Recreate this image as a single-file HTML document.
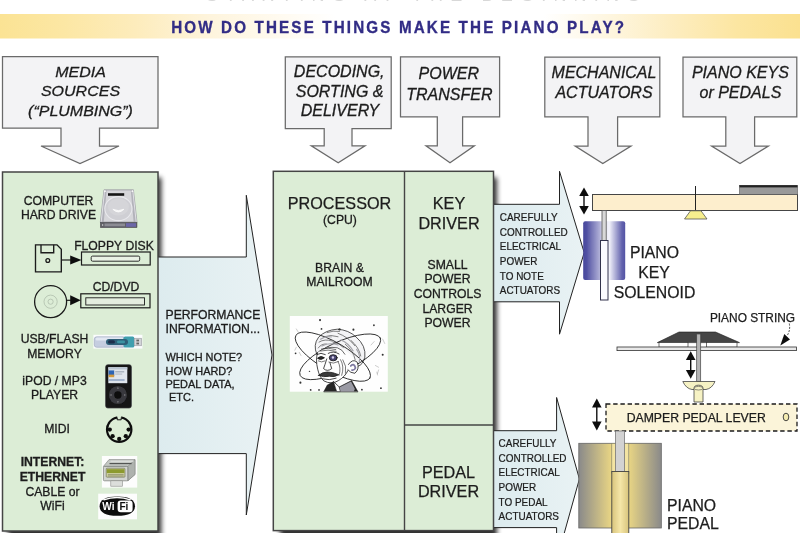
<!DOCTYPE html>
<html>
<head>
<meta charset="utf-8">
<title>How do these things make the piano play?</title>
<style>
html,body{margin:0;padding:0;background:#fff;}
body{width:800px;height:533px;overflow:hidden;font-family:"Liberation Sans",sans-serif;}
svg{display:block;font-family:"Liberation Sans",sans-serif;}
.lbl{font-style:italic;font-size:16px;fill:#1c1c1c;text-anchor:middle;stroke:#1c1c1c;stroke-width:0.3px;}
.t12{font-size:12.2px;fill:#1c1c1c;text-anchor:middle;stroke:#1c1c1c;stroke-width:0.3px;}
.t16{font-size:16.2px;fill:#1c1c1c;text-anchor:middle;stroke:#1c1c1c;stroke-width:0.25px;}
.cond{font-size:11.7px;fill:#1c1c1c;stroke:#1c1c1c;stroke-width:0.25px;}
</style>
</head>
<body>
<svg width="800" height="533" viewBox="0 0 800 533">
<defs>
  <linearGradient id="banner" gradientUnits="userSpaceOnUse" x1="0" x2="800" y1="0" y2="0">
    <stop offset="0" stop-color="#fbe394"/>
    <stop offset="0.08" stop-color="#fce7a4"/>
    <stop offset="0.17" stop-color="#fdecbc"/>
    <stop offset="0.26" stop-color="#fef4dc"/>
    <stop offset="0.36" stop-color="#fffbf2"/>
    <stop offset="0.42" stop-color="#ffffff"/>
    <stop offset="0.68" stop-color="#ffffff"/>
    <stop offset="0.76" stop-color="#fef6e0"/>
    <stop offset="0.84" stop-color="#fdedc0"/>
    <stop offset="0.92" stop-color="#fce6a2"/>
    <stop offset="1" stop-color="#fbe190"/>
  </linearGradient>
  <linearGradient id="blue1" x1="0" x2="1" y1="0" y2="0">
    <stop offset="0" stop-color="#dcebee"/>
    <stop offset="1" stop-color="#e9f2f4"/>
  </linearGradient>
  <linearGradient id="sol1" x1="0" x2="1" y1="0" y2="0">
    <stop offset="0" stop-color="#47479c"/>
    <stop offset="0.08" stop-color="#5050a2"/>
    <stop offset="0.40" stop-color="#b2b2d8"/>
    <stop offset="0.46" stop-color="#dedef0"/>
    <stop offset="0.62" stop-color="#f3f3fb"/>
    <stop offset="0.92" stop-color="#6464ae"/>
    <stop offset="1" stop-color="#5252a4"/>
  </linearGradient>
  <linearGradient id="sol2" x1="0" x2="1" y1="0" y2="0">
    <stop offset="0" stop-color="#8a8a8a"/>
    <stop offset="0.4" stop-color="#ead684"/>
    <stop offset="0.6" stop-color="#ead684"/>
    <stop offset="1" stop-color="#8a8a8a"/>
  </linearGradient>
  <linearGradient id="plg" x1="0" x2="1" y1="0" y2="0">
    <stop offset="0" stop-color="#d8c47c"/>
    <stop offset="0.5" stop-color="#f5e6a8"/>
    <stop offset="1" stop-color="#d8c47c"/>
  </linearGradient>
  <filter id="sh" x="-10%" y="-10%" width="130%" height="120%">
    <feGaussianBlur stdDeviation="2.7"/>
  </filter>
  <filter id="soft" x="-10" y="-10" width="820" height="553" filterUnits="userSpaceOnUse"><feGaussianBlur stdDeviation="0.45"/></filter>
</defs>

<g filter="url(#soft)">
<!-- banner -->
<rect x="-6" y="14" width="812" height="24.5" fill="url(#banner)"/>
<text x="206" y="1.3" font-size="18" letter-spacing="7.2" fill="#d8d8d8">STARTING AT THE BEGINNING</text>
<text x="171.2" y="33.2" transform="translate(0,33.2) scale(1,1.14) translate(0,-33.2)" font-weight="bold" font-size="15.2" letter-spacing="2.15" fill="#322d86" stroke="#322d86" stroke-width="0.3">HOW DO THESE THINGS MAKE THE PIANO PLAY?</text>

<!-- label callouts -->
<g fill="#f3f3f5" stroke="#6a6a6a" stroke-width="1.25" stroke-linejoin="miter">
  <path d="M2.5,56.6 H158 V128.2 H99.5 V146 H119 L80,163.6 L41,146 H61 V128.2 H2.5 Z"/>
  <path d="M285.3,56.8 H391.2 V128.6 H352 V145.8 H365 L338.2,162.8 L311.3,145.8 H324.2 V128.6 H285.3 Z"/>
  <path d="M400.5,56.8 H499.6 V116.9 H462.6 V145.8 H474.4 L450,162.8 L426,145.8 H437.3 V116.9 H400.5 Z"/>
  <path d="M544.8,57 H659.8 V116.8 H617.6 V146 H631 L602.8,163.6 L575.2,146 H588 V116.8 H544.8 Z"/>
  <path d="M683,57 H796.8 V116.8 H754.6 V146 H768.4 L740,163.6 L711.6,146 H725.8 V116.8 H683 Z"/>
</g>
<g class="lbl">
  <text transform="translate(80.5,77.2) scale(1,0.9)">MEDIA</text>
  <text transform="translate(80.5,96.3) scale(1,0.9)">SOURCES</text>
  <text transform="translate(80.5,115.8) scale(1,0.9)">(“PLUMBING”)</text>
  <text x="339.2" y="77.3">DECODING,</text>
  <text x="339.6" y="96.5">SORTING &amp;</text>
  <text x="340" y="115.8">DELIVERY</text>
  <text x="448.8" y="79.3">POWER</text>
  <text x="449.4" y="99.7">TRANSFER</text>
  <text transform="translate(604,78.3) scale(1,1.03)">MECHANICAL</text>
  <text transform="translate(604,97.7) scale(1,1.03)">ACTUATORS</text>
  <text x="740.4" y="78.3">PIANO KEYS</text>
  <text x="740.4" y="97.8">or PEDALS</text>
</g>

<!-- shadows -->
<rect x="8" y="177.5" width="153.4" height="362" fill="#000" opacity="0.8" filter="url(#sh)"/>
<rect x="280" y="177.5" width="217" height="362" fill="#000" opacity="0.8" filter="url(#sh)"/>

<!-- big blue arrow 1 -->
<path d="M150,257 H246.3 V195.3 L272,355 L246.3,515 V453.6 H150 Z" fill="url(#blue1)" stroke="#222" stroke-width="1"/>
<!-- blue arrow 2 -->
<path d="M490,204.3 H559.5 V171.3 L584.2,252.6 L559.5,334.2 V301.8 H490 Z" fill="url(#blue1)" stroke="#222" stroke-width="1"/>
<!-- blue arrow 3 -->
<path d="M490,430.7 H556.6 V397.5 L579.4,479 L556.6,560.5 V527.6 H490 Z" fill="url(#blue1)" stroke="#222" stroke-width="1"/>

<!-- green boxes -->
<rect x="2.5" y="172" width="155.5" height="359" fill="#dcedd6" stroke="#444" stroke-width="1.5"/>
<rect x="273.3" y="171.3" width="220.2" height="359.3" fill="#dcedd6" stroke="#444" stroke-width="1.5"/>
<line x1="404.5" y1="171.5" x2="404.5" y2="530.5" stroke="#444" stroke-width="1.4"/>
<line x1="404.5" y1="425" x2="493.5" y2="425" stroke="#444" stroke-width="1.4"/>

<!-- left box text -->
<g class="t12">
  <text x="58.5" y="204.5">COMPUTER</text>
  <text x="58.5" y="218.5">HARD DRIVE</text>
  <text x="114" y="250">FLOPPY DISK</text>
  <text x="116" y="290.5">CD/DVD</text>
  <text x="54.5" y="343">USB/FLASH</text>
  <text x="54.5" y="357.5">MEMORY</text>
  <text x="54.5" y="384.5">iPOD / MP3</text>
  <text x="54.5" y="399">PLAYER</text>
  <text x="57" y="433">MIDI</text>
  <text x="52.5" y="466" font-weight="bold">INTERNET:</text>
  <text x="52.5" y="481" font-weight="bold">ETHERNET</text>
  <text x="52.5" y="495.5">CABLE or</text>
  <text x="52.5" y="510">WiFi</text>
</g>


<!-- ICONS: left box -->
<!-- hard drive -->
<g>
  <path d="M104,189.8 H133.4 L137,222.3 H100.3 Z" fill="#b2b2ba" stroke="#9a9aa2" stroke-width="0.7"/>
  <path d="M106.6,190.6 H130.8 L133.6,221.6 H103.8 Z" fill="#d6d6da"/>
  <path d="M104.6,190.4 L101.2,221.8 M132.8,190.4 L136.2,221.8" stroke="#ececf0" stroke-width="0.8" fill="none"/>
  <ellipse cx="118.4" cy="208.6" rx="13.6" ry="12" fill="#cfcfd4" stroke="#e9e9ed" stroke-width="1.1"/>
  <ellipse cx="118.4" cy="206.8" rx="10.5" ry="8.6" fill="#d5d5d9"/>
  <path d="M112.9,209.3 Q118.4,214.6 123.9,209.3 Q118.4,212 112.9,209.3 Z" fill="#fafafa" stroke="#fafafa" stroke-width="0.9"/>
  <rect x="108" y="193.2" width="16.2" height="2.6" fill="#161616"/>
  <rect x="100.3" y="222.3" width="36.7" height="5.4" fill="#5e5e66" stroke="#4a4a50" stroke-width="0.5"/>
  <rect x="104.5" y="223.5" width="20.5" height="2.8" fill="#8c8c94"/>
  <rect x="126" y="223.2" width="10" height="3.6" fill="#6c66a8"/>
  <circle cx="102.6" cy="225" r="0.8" fill="#ddd"/>
  <circle cx="105" cy="191.2" r="0.9" fill="#f8f8f8"/>
  <circle cx="132.4" cy="191.2" r="0.9" fill="#f8f8f8"/>
</g>
<!-- floppy -->
<g fill="none" stroke="#1a1a1a" stroke-width="1.35">
  <path d="M35.5,244.8 H57 L61.3,249.3 V271.8 H35.5 Z"/>
  <path d="M41,244.8 V252.7 H53.7 V244.8"/>
  <circle cx="47.8" cy="260.5" r="1.9" stroke-width="1.3"/>
  <line x1="61.3" y1="260" x2="72" y2="260" stroke-width="1.2"/>
  <path d="M70.2,255.6 L81.5,260 L70.2,264.4 Z" fill="#111" stroke="none"/>
  <rect x="81.5" y="252" width="68.7" height="13" stroke-width="1.2"/>
  <rect x="91.2" y="256.1" width="48.5" height="5.1" rx="1.4" fill="#e9f1e5" stroke-width="0.9"/>
</g>
<!-- cd -->
<g fill="none" stroke="#1a1a1a" stroke-width="1.3">
  <circle cx="50.6" cy="301.7" r="16"/>
  <circle cx="50.6" cy="301.7" r="6.6" stroke="#a9b8a6" stroke-width="0.7"/>
  <circle cx="50.6" cy="301.7" r="2.6" stroke="#a9b8a6" stroke-width="0.7"/>
  <line x1="66.6" y1="300.3" x2="72" y2="300.3" stroke-width="1.2"/>
  <path d="M70.2,295.3 L80.8,300.3 L70.2,305.3 Z" fill="#111" stroke="none"/>
  <rect x="80.8" y="293.8" width="69.2" height="14" stroke-width="1.2"/>
  <rect x="85.8" y="297.8" width="58.7" height="7.2" fill="#e4eddf" stroke-width="0.9"/>
</g>
<!-- usb -->
<g>
  <rect x="93.4" y="334.8" width="49" height="13.8" fill="#fbfcfd"/>
  <rect x="94.3" y="336.8" width="31" height="10.5" rx="2.4" fill="#c5cde0" stroke="#9aa4bc" stroke-width="0.6"/>
  <rect x="95.5" y="337.6" width="28" height="3" rx="1.5" fill="#e2e7f2"/>
  <rect x="123.5" y="336.6" width="10.8" height="11" rx="1.6" fill="#3f9fae"/>
  <rect x="106" y="339" width="22" height="6" rx="3" fill="#2d5f78"/>
  <rect x="108" y="340.3" width="7" height="3.3" rx="1.6" fill="#1f2e4c"/>
  <rect x="117" y="340.6" width="8" height="2.6" rx="1.3" fill="#3b93a2"/>
  <rect x="134.2" y="338.2" width="7.4" height="7.6" fill="#d2d4d8" stroke="#8c8e94" stroke-width="0.5"/>
  <rect x="136.4" y="339.6" width="2.6" height="1.8" fill="#666"/>
  <rect x="136.4" y="342.6" width="2.6" height="1.8" fill="#666"/>
</g>
<!-- ipod -->
<g>
  <rect x="105.6" y="364.7" width="25.8" height="43.3" rx="2.2" fill="#121214" stroke="#3c3c40" stroke-width="0.7"/>
  <rect x="108.3" y="367.2" width="19" height="16" fill="#dfe5ec"/>
  <rect x="108.3" y="367.2" width="19" height="2.2" fill="#b9c4d2"/>
  <rect x="108.6" y="370.4" width="5.6" height="5.4" fill="#2d65b4"/>
  <rect x="108.6" y="374.6" width="5.6" height="2.6" fill="#d49a3c"/>
  <rect x="115.2" y="371.4" width="9" height="0.9" fill="#8c96a4"/>
  <rect x="115.2" y="373.6" width="7" height="0.9" fill="#a8b0bc"/>
  <rect x="108.6" y="379.4" width="16" height="1.2" fill="#7d93b8"/>
  <circle cx="117.9" cy="395" r="9.1" fill="#38383c"/>
  <circle cx="117.9" cy="395" r="3.7" fill="#0c0c0e"/>
  <path d="M117.9,387.2 l1,1.3 h-2 z M117.9,402.8 l1,-1.3 h-2 z M110.1,395 l1.3,-1 v2 z M125.7,395 l-1.3,-1 v2 z" fill="#9a9a9e"/>
</g>
<!-- midi -->
<g>
  <circle cx="119.2" cy="429.6" r="12.2" fill="none" stroke="#111" stroke-width="2.2"/>
  <rect x="117.2" y="415.8" width="4" height="3.4" fill="#dcedd6"/>
  <path d="M117.2,417.6 v2.2 h4 v-2.2" fill="none" stroke="#111" stroke-width="1"/>
  <g fill="#111">
    <circle cx="109.8" cy="429.6" r="2.15"/>
    <circle cx="112.6" cy="436.2" r="2.15"/>
    <circle cx="119.2" cy="439.0" r="2.15"/>
    <circle cx="125.8" cy="436.2" r="2.15"/>
    <circle cx="128.6" cy="429.6" r="2.15"/>
  </g>
</g>
<!-- ethernet -->
<g>
  <rect x="101.9" y="456" width="35.3" height="31.6" fill="#fdfdfd"/>
  <path d="M109,459.6 H135 V474.5 L127.8,480.8 V466.4 H103.4 Z" fill="#c4c8c4" stroke="#7c807c" stroke-width="0.6"/>
  <path d="M127.8,466.4 L135,459.6 V474.5 L127.8,480.8 Z" fill="#aeb2ae" stroke="#7c807c" stroke-width="0.5"/>
  <path d="M109.5,463.6 H131.6" stroke="#4c4e4c" stroke-width="1.1"/>
  <path d="M110.5,461.2 H133.5" stroke="#e8eae8" stroke-width="0.9"/>
  <rect x="103.4" y="466.4" width="24.4" height="14.4" rx="1" fill="#d2d5d1" stroke="#777a76" stroke-width="0.7"/>
  <rect x="106.2" y="468.2" width="18.8" height="9" rx="0.8" fill="#c9cc9a" stroke="#6a6c58" stroke-width="0.6"/>
  <rect x="106.8" y="469.2" width="17.6" height="3.8" fill="#8c9a2e"/>
  <path d="M108,474.6 H123.6 M108,476 H123.6" stroke="#7d8060" stroke-width="0.6" fill="none"/>
  <rect x="110.8" y="480.8" width="11.6" height="5.4" fill="#dcdedb" stroke="#8a8c88" stroke-width="0.6"/>
</g>
<!-- wifi -->
<g>
  <rect x="98.2" y="493.7" width="38.8" height="25.6" fill="#fdfdfd"/>
  <path d="M99.6,506.2 C99.6,499.5 106,496.4 117.3,496.4 C128.6,496.4 135,499.5 135,506.2 C135,512.6 128.6,515.8 117.3,515.8 C106,515.8 99.6,512.6 99.6,506.2 Z" fill="#0e0e0e"/>
  <path d="M104,500.5 Q117,495.8 130,500.5 L131.5,499.6 Q117,493.8 102.5,499.6 Z" fill="#fdfdfd"/>
  <rect x="117.6" y="500.6" width="15" height="11.6" rx="3.2" fill="#fdfdfd"/>
  <text x="102.2" y="510.4" font-size="11" font-weight="bold" fill="#fdfdfd" transform="translate(102.2,0) scale(0.92,1) translate(-102.2,0)">Wi</text>
  <text x="119.4" y="510.4" font-size="11" font-weight="bold" fill="#0e0e0e" transform="translate(119.4,0) scale(0.92,1) translate(-119.4,0)">Fi</text>
</g>

<!-- performance info text -->
<g fill="#1c1c1c" stroke="#1c1c1c" stroke-width="0.3">
  <text x="165.5" y="318.5" font-size="12.2">PERFORMANCE</text>
  <text x="165.5" y="333.2" font-size="12.2">INFORMATION...</text>
  <text x="165.5" y="361.4" font-size="10.95">WHICH NOTE?</text>
  <text x="165.5" y="374.6" font-size="10.95">HOW HARD?</text>
  <text x="165.5" y="387.6" font-size="10.95">PEDAL DATA,</text>
  <text x="169" y="400.6" font-size="10.95">ETC.</text>
</g>


<!-- einstein -->
<rect x="289.8" y="316" width="98" height="75.7" fill="#fefefe"/>
<g transform="translate(289,315) scale(0.1464)" fill="none" stroke="#1c1c1c" stroke-width="5.5" stroke-linecap="round" stroke-linejoin="round">
  <!-- hair mass (white, hides orbit lines partially) -->
  <path d="M190,270 Q160,205 200,150 Q250,100 330,95 Q410,100 460,150 Q530,210 520,290 Q505,345 470,350 Q445,270 370,235 Q290,205 215,250 Z" fill="#f4f4f6" stroke="none"/>
  <!-- orbits -->
  <ellipse cx="300" cy="285" rx="292" ry="98" transform="rotate(30 300 285)"/>
  <ellipse cx="350" cy="285" rx="302" ry="100" transform="rotate(-25 350 285)"/>
  <!-- hair strokes -->
  <path d="M190,268 Q162,205 202,152 Q250,102 330,97 Q408,102 458,150 Q528,210 518,288 Q504,342 472,350" stroke-width="5"/>
  <path d="M205,185 Q245,160 295,178 M235,150 Q285,130 335,148 M335,125 Q405,150 450,210 M385,200 Q440,245 452,305 M200,225 Q220,195 255,198 M300,185 Q345,192 372,222 M425,175 Q478,220 490,280 M260,120 Q300,105 345,112" stroke="#444" stroke-width="4.5"/>
  <path d="M225,212 Q275,185 335,205 M355,170 Q405,192 438,245 M462,235 Q490,275 480,320 M215,165 Q250,140 290,150" stroke="#a4a4aa" stroke-width="8"/>
  <!-- face fill -->
  <path d="M205,248 Q255,212 330,224 Q365,234 382,268 L408,335 L402,380 Q385,420 338,448 Q290,478 238,450 Q208,425 196,370 Q180,305 195,258 Z" fill="#fefefe" stroke="none"/>
  <path d="M406,338 Q435,295 466,322 Q484,368 450,398 Q420,398 402,374 Z" fill="#fefefe" stroke="none"/>
  <!-- face outline -->
  <path d="M195,258 Q180,305 196,370 Q208,425 238,450 Q290,478 338,448 Q385,420 402,380"/>
  <path d="M205,248 Q255,212 330,224 Q365,234 382,268" stroke-width="4.5"/>
  <!-- ear -->
  <path d="M406,338 Q435,295 466,322 Q484,368 450,398 Q420,398 402,374"/>
  <path d="M422,348 Q446,326 454,362 Q446,380 430,376" stroke="#5c5688" stroke-width="12" opacity="0.8"/>
  <!-- eyes -->
  <path d="M198,292 Q218,274 242,292 Q222,312 198,298 Z" fill="#2c2c2c" stroke-width="6"/>
  <ellipse cx="302" cy="292" rx="27" ry="21" fill="#4a4470" stroke-width="6"/>
  <circle cx="300" cy="290" r="8" fill="#d8d4ec" stroke="none"/>
  <path d="M190,270 Q218,252 248,270 M268,262 Q302,242 342,266" stroke-width="5.5"/>
  <path d="M200,314 Q222,328 246,314 M272,322 Q302,338 338,318" stroke-width="4"/>
  <!-- nose -->
  <path d="M258,300 Q244,345 236,366 Q262,390 292,366 Q284,345 280,326" stroke-width="5.5"/>
  <!-- moustache/mouth -->
  <path d="M202,412 Q250,368 340,408 Q308,428 275,418 Q236,428 202,412 Z" fill="#3a3a3a"/>
  <path d="M228,436 Q275,450 322,432" stroke-width="5.5"/>
  <!-- wrinkles -->
  <path d="M335,318 Q358,360 342,412 M352,305 Q380,352 360,412 M368,306 Q396,348 386,398 M215,246 Q265,232 322,248 M222,232 Q268,220 320,236" stroke-width="4"/>
  <!-- jacket -->
  <path d="M238,523 L262,478 L305,455 L342,492 L428,448 L470,523 Z" fill="#262626" stroke-width="4"/>
  <path d="M346,494 L424,454 L450,505 L442,523 L350,523 Z" fill="#9a9aa4" stroke="none"/>
  <path d="M305,457 L326,523 L350,523 L342,492 Z" fill="#fefefe" stroke-width="3"/>
  <!-- dots -->
  <g fill="#333" stroke="none">
    <circle cx="212" cy="35" r="7"/><circle cx="440" cy="100" r="7"/><circle cx="580" cy="70" r="6"/>
    <circle cx="640" cy="272" r="7"/><circle cx="78" cy="462" r="7"/><circle cx="628" cy="500" r="6"/>
    <circle cx="45" cy="262" r="6"/><circle cx="148" cy="512" r="6"/><circle cx="498" cy="510" r="6"/>
    <circle cx="222" cy="95" r="6"/><circle cx="140" cy="385" r="5"/><circle cx="345" cy="98" r="8"/>
    <circle cx="205" cy="512" r="6"/>
  </g>
  <path d="M50,95 l18,30 M70,255 l12,22 M590,345 l22,12 M612,375 l-8,26 M640,165 l14,30 M560,205 l22,-24 M40,240 l10,-20 M600,390 l5,20" stroke="#aaa" stroke-width="4"/>
</g>

<!-- processor text -->
<text class="t16" x="339.5" y="209">PROCESSOR</text>
<text class="t12" x="340" y="224.2" font-size="12">(CPU)</text>
<text class="t12" x="339.5" y="271.5">BRAIN &amp;</text>
<text class="t12" x="339.5" y="285.8">MAILROOM</text>
<text class="t16" x="449" y="209">KEY</text>
<text class="t16" x="449" y="228.5">DRIVER</text>
<g class="t12">
  <text x="447.5" y="268.7">SMALL</text>
  <text x="447.5" y="283.3">POWER</text>
  <text x="447.5" y="297.9">CONTROLS</text>
  <text x="447.5" y="312.5">LARGER</text>
  <text x="447.5" y="327.1">POWER</text>
</g>
<text class="t16" x="448.5" y="478">PEDAL</text>
<text class="t16" x="448.5" y="497">DRIVER</text>

<!-- condensed arrow text -->
<g class="cond" transform="translate(499.8,0) scale(0.85,1)">
  <text x="0" y="221.3">CAREFULLY</text>
  <text x="0" y="235.9">CONTROLLED</text>
  <text x="0" y="250.5">ELECTRICAL</text>
  <text x="0" y="265.1">POWER</text>
  <text x="0" y="279.7">TO NOTE</text>
  <text x="0" y="294.3">ACTUATORS</text>
</g>
<g class="cond" transform="translate(498.6,0) scale(0.85,1)">
  <text x="0" y="447.2">CAREFULLY</text>
  <text x="0" y="461.8">CONTROLLED</text>
  <text x="0" y="476.4">ELECTRICAL</text>
  <text x="0" y="491">POWER</text>
  <text x="0" y="505.6">TO PEDAL</text>
  <text x="0" y="520.2">ACTUATORS</text>
</g>

<!-- piano key assembly -->
<rect x="592.5" y="194.5" width="205" height="16" fill="#fdeecd" stroke="#444" stroke-width="1"/>
<rect x="739.5" y="185.5" width="58" height="9" fill="#999" stroke="#555" stroke-width="0.6"/>
<rect x="739.5" y="185.2" width="58" height="2.2" fill="#222"/>
<line x1="695.5" y1="186" x2="695.5" y2="210.5" stroke="#222" stroke-width="1"/>
<path d="M690.5,210.8 H701 L707,219 H684.5 Z" fill="#f7ef8e" stroke="#555" stroke-width="0.8"/>
<!-- double arrow -->
<g fill="#111" stroke="#111">
  <line x1="584" y1="192" x2="584" y2="210" stroke-width="1.4"/>
  <path d="M584,187.5 L588.8,196 H579.2 Z" stroke="none"/>
  <path d="M584,214.5 L588.8,206 H579.2 Z" stroke="none"/>
</g>
<!-- key solenoid -->
<rect x="583.2" y="221.3" width="42" height="58.6" rx="2" fill="url(#sol1)"/>
<rect x="602" y="210.5" width="4.2" height="30" fill="#d8d8d8" stroke="#555" stroke-width="0.8"/>
<rect x="600.5" y="240.5" width="7.5" height="59.5" fill="#fbfbff" stroke="#33334c" stroke-width="1"/>
<g font-size="15.8" fill="#1c1c1c" stroke="#1c1c1c" stroke-width="0.25" text-anchor="middle">
  <text x="654.5" y="258">PIANO</text>
  <text x="654" y="277.7">KEY</text>
  <text x="654.5" y="297.5">SOLENOID</text>
</g>

<!-- piano string / damper -->
<text x="752.5" y="322.3" font-size="11.9" fill="#1c1c1c" stroke="#1c1c1c" stroke-width="0.25" text-anchor="middle">PIANO STRING</text>
<path d="M789.3,323.5 Q790.5,330 787.5,335" fill="none" stroke="#222" stroke-width="0.8" stroke-dasharray="2,1.3"/>
<path d="M780.3,345.4 L784.3,334 L790,339.6 Z" fill="#111"/>
<path d="M679,332 H715.5 L739.5,342.6 H657.3 Z" fill="#444" stroke="#222" stroke-width="0.6"/>
<rect x="659" y="342.6" width="29" height="4.6" fill="#fff" stroke="#333" stroke-width="0.7"/>
<rect x="706.5" y="342.6" width="30.5" height="4.6" fill="#fff" stroke="#333" stroke-width="0.7"/>
<rect x="617" y="347" width="179.5" height="3.6" fill="#e8e8e8" stroke="#333" stroke-width="0.8"/>
<rect x="696.7" y="334" width="4" height="47.5" fill="#b4b4b4" stroke="#444" stroke-width="0.7"/>
<g fill="#111">
  <line x1="690.7" y1="356" x2="690.7" y2="374" stroke="#111" stroke-width="1.4"/>
  <path d="M690.7,351.2 L695.5,360 H685.9 Z"/>
  <path d="M690.7,378.8 L695.5,370 H685.9 Z"/>
</g>
<path d="M682.8,381.5 H715 Q712,388.5 706,389.5 H692 Q686,388.5 682.8,381.5 Z" fill="#f6f2c4" stroke="#444" stroke-width="0.8"/>
<path d="M694,402 V388.5 Q694,385.2 698.5,385.2 Q703,385.2 703,388.5 V402 Z" fill="#f6f2c4" stroke="#444" stroke-width="0.8"/>
<ellipse cx="698.5" cy="388.2" rx="4.3" ry="1.8" fill="#f6f2c4" stroke="#444" stroke-width="0.6"/>

<!-- damper pedal lever -->
<rect x="606" y="404" width="191" height="27" fill="#fbf4d9" stroke="#1a1a1a" stroke-width="1.3" stroke-dasharray="4.4,2.8"/>
<text x="696.2" y="422.2" font-size="12.25" fill="#1c1c1c" stroke="#1c1c1c" stroke-width="0.25" text-anchor="middle">DAMPER PEDAL LEVER</text>
<ellipse cx="786" cy="417" rx="2.8" ry="3.8" fill="#f5ecb0" stroke="#333" stroke-width="0.9"/>
<g fill="#111">
  <line x1="596.8" y1="404" x2="596.8" y2="426" stroke="#111" stroke-width="1.4"/>
  <path d="M596.8,398.6 L601.6,407.5 H592 Z"/>
  <path d="M596.8,430.4 L601.6,421.5 H592 Z"/>
</g>

<!-- pedal solenoid -->
<rect x="578.8" y="443.3" width="82.5" height="84.7" fill="url(#sol2)" stroke="#666" stroke-width="0.8"/>
<rect x="611.8" y="443.3" width="17" height="30" fill="#f3e4a2" stroke="#776" stroke-width="0.6"/>
<rect x="615.6" y="431" width="8.8" height="40.5" fill="#d2d2d2" stroke="#777" stroke-width="0.8"/>
<rect x="611.8" y="471.5" width="17" height="70" fill="url(#plg)" stroke="#444" stroke-width="0.9"/>
<g font-size="15.8" fill="#1c1c1c" stroke="#1c1c1c" stroke-width="0.25">
  <text x="667" y="510.5">PIANO</text>
  <text x="667" y="529">PEDAL</text>
</g>
</g>
</svg>
</body>
</html>
